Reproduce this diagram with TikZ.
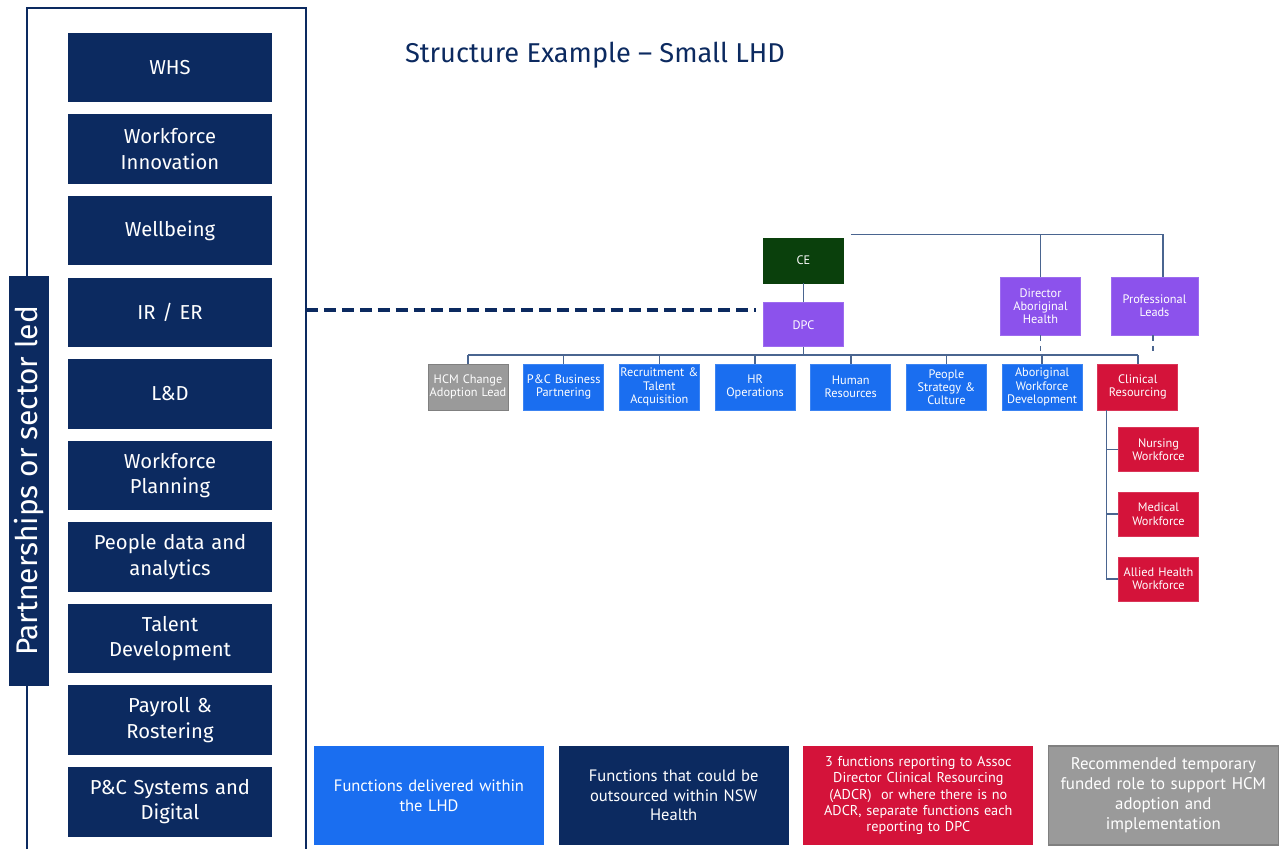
\documentclass[tikz,border=0pt]{standalone}
\usepackage{fontspec}
\setmainfont{Fira Sans}
\newfontfamily\orgfont{PT Sans}
\usetikzlibrary{positioning}
\definecolor{navy}{HTML}{0C2A60}
\definecolor{lhdblue}{HTML}{1A6EF0}
\definecolor{dpcpurple}{HTML}{8C52EC}
\definecolor{cegreen}{HTML}{0A400C}
\definecolor{clinred}{HTML}{D4133A}
\definecolor{tempgray}{HTML}{9A9A9A}
\definecolor{linecol}{HTML}{4A6590}

\begin{document}
\begin{tikzpicture}[
          x=0.02cm, y=-0.02cm,
          node distance=0.228cm,
          fnbox/.style={rectangle, fill=navy, text=white, minimum width=4.08cm, minimum height=1.39cm, text width=3.9cm, align=center, inner sep=0pt, font=\fontsize{11.5}{14.5}\selectfont},
          orgbox/.style={rectangle, fill=lhdblue, draw=lhdblue!85!white, text=white, minimum width=1.58cm, minimum height=0.92cm, text width=1.6cm, align=center, inner sep=0pt, font=\orgfont\fontsize{7}{7.5}\selectfont},
          legbox/.style={rectangle, text=white, minimum width=4.6cm, minimum height=1.98cm, text width=4.5cm, align=center, inner sep=0pt, font=\orgfont\fontsize{9.4}{11.2}\selectfont},
          orgline/.style={draw=linecol, line width=0.9pt},
          dashline/.style={draw=navy, line width=2.3pt, dash pattern=on 6.8pt off 3.4pt}
        ]
          \useasboundingbox (0,0) rectangle (1280,849);

          % frame round the outsourced functions
          \draw[navy, line width=1.7pt] (27,849) -- (27,8) -- (306,8) -- (306,849);
          \node[rectangle, fill=navy, text=white, rotate=90, minimum width=8.2cm, minimum height=0.8cm, inner sep=0pt, font=\fontsize{17}{19}\selectfont] (partners) at (29,481) {Partnerships or sector led};

          \node[fnbox] (whs) at (170,67.5) {WHS};
          \node[fnbox, below=of whs] (innov) {Workforce\\Innovation};
          \node[fnbox, below=of innov] (wellb) {Wellbeing};
          \node[fnbox, below=of wellb] (irer) {IR / ER};
          \node[fnbox, below=of irer] (ld) {L\&D};
          \node[fnbox, below=of ld] (wfplan) {Workforce\\Planning};
          \node[fnbox, below=of wfplan] (pdata) {People data and\\analytics};
          \node[fnbox, below=of pdata] (talent) {Talent\\Development};
          \node[fnbox, below=of talent] (payroll) {Payroll \&\\Rostering};
          \node[fnbox, below=of payroll] (systems) {P\&C Systems and\\Digital};

          \node[text=navy, font=\fontsize{15.5}{18}\selectfont] (title) at (595,55) {Structure Example -- Small LHD};

          % executive
          \node[orgbox, fill=cegreen, draw=cegreen, minimum height=0.9cm] (ce) at (803.5,260.5) {CE};
          \node[orgbox, fill=dpcpurple, draw=dpcpurple!85!white, minimum height=0.88cm, below=0.38cm of ce] (dpc) {DPC};
          \node[orgbox, fill=dpcpurple, draw=dpcpurple!85!white, minimum height=1.16cm] (dah) at (1040.5,306) {Director\\Aboriginal\\Health};
          \node[orgbox, fill=dpcpurple, draw=dpcpurple!85!white, text width=1.74cm, minimum height=1.16cm] (leads) at (1154.5,306) {Professional\\Leads};

          % functions under DPC
          \node[orgbox, fill=tempgray, draw=gray] (hcm) at (468,387) {HCM Change\\Adoption Lead};
          \node[orgbox, right=0.3cm of hcm] (bizpart) {P\&C Business\\Partnering};
          \node[orgbox, right=0.3cm of bizpart] (recruit) {Recruitment \&\\Talent\\Acquisition};
          \node[orgbox, right=0.3cm of recruit] (hrops) {HR\\Operations};
          \node[orgbox, right=0.3cm of hrops] (hr) {Human\\Resources};
          \node[orgbox, right=0.3cm of hr] (culture) {People\\Strategy \&\\Culture};
          \node[orgbox, right=0.3cm of culture] (abwd) {Aboriginal\\Workforce\\Development};
          \node[orgbox, fill=clinred, draw=clinred!85!white, right=0.3cm of abwd] (clinres) {Clinical\\Resourcing};

          \node[orgbox, fill=clinred, draw=clinred!85!white, minimum height=0.88cm] (nursing) at (1158.5,449.5) {Nursing\\Workforce};
          \node[orgbox, fill=clinred, draw=clinred!85!white, minimum height=0.88cm, below=0.4cm of nursing] (medical) {Medical\\Workforce};
          \node[orgbox, fill=clinred, draw=clinred!85!white, minimum height=0.88cm, below=0.4cm of medical] (allied) {Allied Health\\Workforce};

          % legend
          \node[legbox, fill=lhdblue] (legblue) at (429,795.5) {Functions delivered within\\the LHD};
          \node[legbox, fill=navy, right=0.28cm of legblue] (legnavy) {Functions that could be\\outsourced within NSW\\Health};
          \node[legbox, fill=clinred, right=0.28cm of legnavy, font=\orgfont\fontsize{8.1}{9.3}\selectfont] (legred) {3 functions reporting to Assoc\\Director Clinical Resourcing\\(ADCR)~ or where there is no\\ADCR, separate functions each\\reporting to DPC};
          \node[legbox, fill=tempgray, draw=gray, line width=0.8pt, right=0.28cm of legred, font=\orgfont\fontsize{9.6}{11.4}\selectfont] (leggray) {Recommended temporary\\funded role to support HCM\\adoption and\\implementation};

          % reporting lines
          \coordinate (topbus) at ([xshift=0.14cm, yshift=0.06cm]ce.north east);
          \coordinate (bus) at (0,355);
          \coordinate (frame) at (306,310);
          \coordinate (spine) at ([xshift=0.18cm]clinres.south west);

          \draw[orgline] (ce) -- (dpc);
          \draw[orgline] (topbus) -| ([xshift=0.17cm]leads.north);
          \draw[orgline] (dah.north) -- (dah.north |- topbus);
          \draw[orgline, dashed] (dah.south) -- (dah.south |- bus);
          \draw[orgline, dashed] ([xshift=-0.03cm]leads.south) -- ([xshift=-0.03cm]leads.south |- bus);
          \draw[orgline] (dpc.south) -- (dpc.south |- bus);
          \draw[orgline] (hcm.north |- bus) -- (clinres.north |- bus);
          \draw[orgline] (hcm.north) -- (hcm.north |- bus);
          \draw[orgline] (bizpart.north) -- (bizpart.north |- bus);
          \draw[orgline] (recruit.north) -- (recruit.north |- bus);
          \draw[orgline] (hrops.north) -- (hrops.north |- bus);
          \draw[orgline] (hr.north) -- (hr.north |- bus);
          \draw[orgline] (culture.north) -- (culture.north |- bus);
          \draw[orgline] (abwd.north) -- (abwd.north |- bus);
          \draw[orgline] (clinres.north) -- (clinres.north |- bus);
          \draw[orgline] (spine) |- (nursing.west);
          \draw[orgline] (spine) |- (medical.west);
          \draw[orgline] (spine) |- (allied.west);

          \draw[dashline] (frame) -- ([xshift=-0.14cm]frame -| dpc.west);
        \end{tikzpicture}
\end{document}
